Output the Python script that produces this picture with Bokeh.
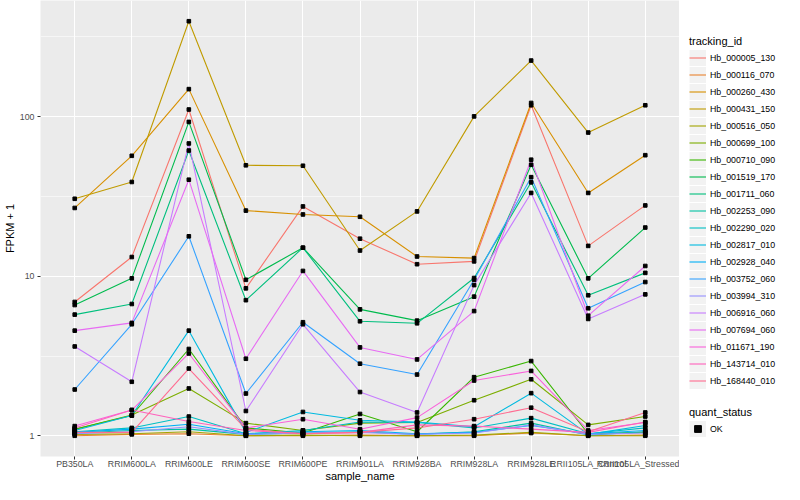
import numpy as np
from bokeh.plotting import figure
from bokeh.layouts import row
from bokeh.models import Range1d, FixedTicker, Legend, LegendItem, PrintfTickFormatter
from bokeh.embed import file_html
from bokeh.resources import INLINE

samples = ["PB350LA", "RRIM600LA", "RRIM600LE", "RRIM600SE", "RRIM600PE",
           "RRIM901LA", "RRIM928BA", "RRIM928LA", "RRIM928LE",
           "RRII105LA_Control", "RRII105LA_Stressed"]

tracking_ids = ["Hb_000005_130", "Hb_000116_070", "Hb_000260_430", "Hb_000431_150",
                "Hb_000516_050", "Hb_000699_100", "Hb_000710_090", "Hb_001519_170",
                "Hb_001711_060", "Hb_002253_090", "Hb_002290_020", "Hb_002817_010",
                "Hb_002928_040", "Hb_003752_060", "Hb_003994_310", "Hb_006916_060",
                "Hb_007694_060", "Hb_011671_190", "Hb_143714_010", "Hb_168440_010"]

colors = ["#F8766D", "#EA8331", "#D89000", "#C09B00", "#A3A500", "#7CAE00", "#39B600",
          "#00BB4E", "#00BF7D", "#00C1A3", "#00BFC4", "#00BAE0", "#00B0F6", "#35A2FF",
          "#9590FF", "#C77CFF", "#E76BF3", "#FA62DB", "#FF62BC", "#FF6C91"]

hb_000005_130 = [6.9, 13.2, 111, 8.4, 27.4, 17.2, 11.9, 12.4, 118, 15.5, 27.8]
hb_000116_070 = [1.0, 1.02, 1.03, 1.0, 1.0, 1.01, 1.0, 1.0, 1.04, 1.0, 1.01]
hb_000260_430 = [26.8, 56.9, 149, 25.8, 24.4, 23.6, 13.3, 13.0, 122, 33.3, 57.4]
hb_000431_150 = [30.6, 39.0, 397, 49.6, 49.3, 14.5, 25.5, 100.5, 225, 79.6, 118]
hb_000516_050 = [1.02, 1.03, 1.06, 1.0, 1.01, 1.0, 1.0, 1.01, 1.05, 1.0, 1.0]
hb_000699_100 = [1.1, 1.35, 1.98, 1.2, 1.08, 1.2, 1.21, 1.67, 2.26, 1.17, 1.32]
hb_000710_090 = [1.1, 1.34, 3.5, 1.12, 1.04, 1.37, 1.06, 2.33, 2.94, 1.03, 1.05]
hb_001519_170 = [6.6, 9.7, 92.8, 9.5, 15.1, 6.2, 5.27, 7.45, 50, 9.7, 20.2]
hb_001711_060 = [5.75, 6.7, 61.4, 7.08, 15.1, 5.22, 5.07, 9.75, 38.8, 7.6, 10.5]
hb_002253_090 = [1.04, 1.08, 1.10, 1.02, 1.04, 1.06, 1.02, 1.06, 1.20, 1.01, 1.06]
hb_002290_020 = [1.06, 1.12, 1.32, 1.03, 1.08, 1.22, 1.21, 1.12, 1.29, 1.03, 1.12]
hb_002817_010 = [1.08, 1.34, 4.56, 1.05, 1.41, 1.25, 1.22, 1.14, 1.85, 1.02, 1.16]
hb_002928_040 = [1.05, 1.10, 1.18, 1.03, 1.06, 1.08, 1.03, 1.05, 1.16, 1.03, 1.08]
hb_003752_060 = [1.95, 5.0, 17.8, 1.84, 5.15, 2.83, 2.42, 9.5, 41.8, 6.3, 9.2]
hb_003994_310 = [1.03, 1.06, 1.14, 1.02, 1.04, 1.05, 1.02, 1.04, 1.17, 1.02, 1.04]
hb_006916_060 = [3.63, 2.18, 68, 1.43, 5.0, 1.88, 1.40, 8.8, 33.3, 5.4, 7.7]
hb_007694_060 = [4.56, 5.1, 40.3, 3.04, 10.8, 3.58, 3.01, 6.05, 53.8, 5.66, 11.6]
hb_011671_190 = [1.15, 1.45, 3.28, 1.12, 1.27, 1.10, 1.30, 2.22, 2.55, 1.08, 1.21]
hb_143714_010 = [1.12, 1.45, 1.23, 1.08, 1.03, 1.05, 1.17, 1.15, 1.10, 1.05, 1.22]
hb_168440_010 = [1.05, 1.05, 2.64, 1.10, 1.03, 1.05, 1.12, 1.27, 1.50, 1.06, 1.40]

series = [hb_000005_130, hb_000116_070, hb_000260_430, hb_000431_150, hb_000516_050,
          hb_000699_100, hb_000710_090, hb_001519_170, hb_001711_060, hb_002253_090,
          hb_002290_020, hb_002817_010, hb_002928_040, hb_003752_060, hb_003994_310,
          hb_006916_060, hb_007694_060, hb_011671_190, hb_143714_010, hb_168440_010]

quant_status = "OK"

FONT = "Liberation Sans"
KEY_BG = "#F2F2F2"

xs = list(range(len(samples)))
allv = np.concatenate([np.array(s, dtype=float) for s in series])
lo, hi = np.log10(allv.min()), np.log10(allv.max())
pad = 0.05 * (hi - lo)

px = []
py = []
for vals in series:
    px.extend(xs)
    py.extend(vals)

# ---------------- main panel ----------------
p = figure(width=679, height=484,
           x_range=Range1d(-0.6, len(samples) - 1 + 0.6),
           y_range=Range1d(10 ** (lo - pad), 10 ** (hi + pad)),
           y_axis_type="log",
           output_backend="svg", toolbar_location=None,
           min_border_left=32, min_border_right=0,
           min_border_top=0, min_border_bottom=20)

p.background_fill_color = "#EBEBEB"
p.border_fill_color = "white"
p.outline_line_color = None

p.xaxis.ticker = FixedTicker(ticks=xs)
p.xaxis.major_label_overrides = {i: s for i, s in enumerate(samples)}
p.yaxis.ticker = FixedTicker(ticks=[1, 10, 100], minor_ticks=[10 ** 0.5, 10 ** 1.5, 10 ** 2.5])
p.yaxis.formatter = PrintfTickFormatter(format="%d")

for ax in (p.xaxis[0], p.yaxis[0]):
    ax.axis_line_color = None
    ax.major_tick_line_color = "#333333"
    ax.major_tick_in = 0
    ax.major_tick_out = 3
    ax.minor_tick_line_color = None
    ax.major_label_text_color = "#4D4D4D"
    ax.major_label_text_font_size = "8.8px"
    ax.major_label_text_font = FONT
    ax.axis_label_text_font_size = "11px"
    ax.axis_label_text_font_style = "normal"
    ax.axis_label_text_font = FONT
    ax.axis_label_text_color = "black"
    ax.major_label_standoff = 2

p.xaxis.axis_label = "sample_name"
p.yaxis.axis_label = "FPKM + 1"
p.xaxis.major_label_standoff = -1
p.xaxis.axis_label_standoff = -2
p.yaxis.axis_label_standoff = 1

p.xgrid.grid_line_color = "white"
p.xgrid.grid_line_width = 1.1
p.ygrid.grid_line_color = "white"
p.ygrid.grid_line_width = 1.1
p.ygrid.minor_grid_line_color = "white"
p.ygrid.minor_grid_line_width = 0.55

for col, vals in zip(colors, series):
    p.line(x=xs, y=vals, line_color=col, line_width=1.1)

p.scatter(x=px, y=py, marker="square", size=3.6, fill_color="black", line_color="black")

# ---------------- legend area ----------------
# Same data drawn again, but the view ranges keep them out of sight:
# only the legend keys of this strip are seen.
lf = figure(width=105, height=484, x_range=Range1d(-3, -2), y_range=Range1d(-3, -2),
            x_axis_location=None, y_axis_location=None,
            output_backend="svg", toolbar_location=None, min_border=0)
lf.outline_line_color = None
lf.background_fill_color = "white"
lf.border_fill_color = "white"
lf.xgrid.visible = False
lf.ygrid.visible = False

key_bg = lf.line(x=px, y=py, line_width=16, line_color=KEY_BG)
items = []
for tid, col, vals in zip(tracking_ids, colors, series):
    r = lf.line(x=xs, y=vals, line_color=col, line_width=1.1)
    items.append(LegendItem(label=tid, renderers=[key_bg, r]))
pt_key = lf.scatter(x=px, y=py, marker="square", size=3.6, fill_color="black", line_color="black")

common = dict(padding=0, margin=0, spacing=0, glyph_width=17, glyph_height=17,
              label_height=17, label_standoff=4, label_text_font_size="8.8px",
              label_text_font=FONT, label_text_color="black",
              title_text_font=FONT, title_text_color="black",
              title_text_font_size="11px", title_text_font_style="normal",
              title_standoff=2, background_fill_alpha=0, border_line_color=None)

leg1 = Legend(items=items, title="tracking_id", location=(10, 67), **common)
leg2 = Legend(items=[LegendItem(label=quant_status, renderers=[key_bg, pt_key])],
              title="quant_status", location=(10, 19), **common)
lf.add_layout(leg1)
lf.add_layout(leg2)

layout = row(p, lf, spacing=0)
open("out.html", "w").write(file_html(layout, INLINE))
